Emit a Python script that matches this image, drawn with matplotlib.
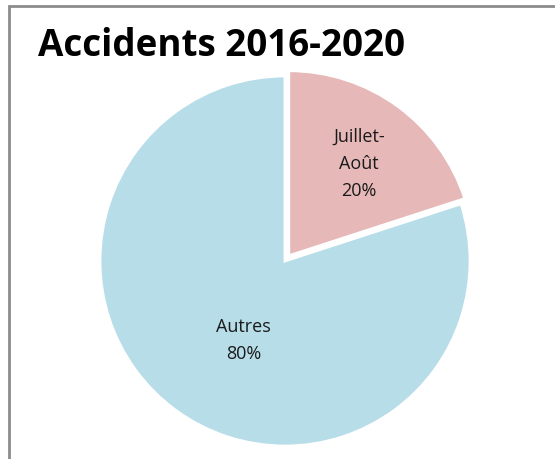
import numpy as np
import matplotlib.pyplot as plt
from matplotlib.patches import Rectangle

categories = ["Juillet-\nAoût", "Autres"]
shares = [20, 80]
colors = ["#E6B9B8", "#B7DDE8"]
title = "Accidents 2016-2020"

W, H = 555, 460
fig = plt.figure(figsize=(W / 100, H / 100), dpi=100)
fig.patch.set_facecolor("white")

# chart frame (goes past the right/bottom edges like the screenshot)
fig.patches.append(Rectangle((9 / W, -0.05), 1.2, (H - 7) / H + 0.05, transform=fig.transFigure,
                             fill=False, edgecolor="#8c8c8c", linewidth=2))

cx, cy, r = 285, 262, 185
ax = fig.add_axes([(cx - r) / W, (H - cy - r) / H, 2 * r / W, 2 * r / H])
wedges, _ = ax.pie(shares, colors=colors, startangle=90, counterclock=False,
                   explode=[0.035, 0], wedgeprops=dict(edgecolor="white", linewidth=2))
ax.set_xlim(-1, 1)
ax.set_ylim(-1, 1)
ax.set_axis_off()

label_radius = [0.63, 0.48]
label_shift = [-1, 8]
for w, cat, val, lr, sh in zip(wedges, categories, shares, label_radius, label_shift):
    mid = np.deg2rad((w.theta1 + w.theta2) / 2 + sh)
    ax.text(lr * np.cos(mid) + w.center[0], lr * np.sin(mid) + w.center[1], f"{cat}\n{val}%",
            ha="center", va="center", fontsize=13, family="Open Sans", linespacing=1.65, color="#1a1a1a")

fig.text(38 / W, 1 - 46 / H, title, ha="left", va="center", fontsize=26.5,
         fontweight="bold", family="Open Sans", color="black")

fig.savefig("out.png", dpi=100)
